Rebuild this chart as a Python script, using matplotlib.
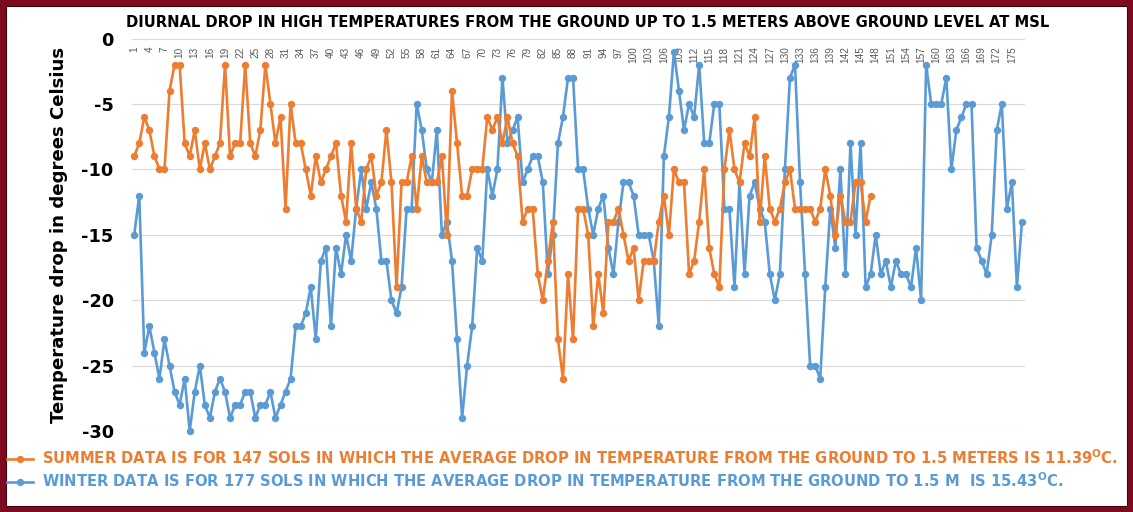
import matplotlib
matplotlib.use("Agg")
import matplotlib.pyplot as plt
from matplotlib.patches import Rectangle

# ---------------- data ----------------
summer = [-9, -8, -6, -7, -9, -10, -10, -4, -2, -2,
          -8, -9, -7, -10, -8, -10, -9, -8, -2, -9,
          -8, -8, -2, -8, -9, -7, -2, -5, -8, -6,
          -13, -5, -8, -8, -10, -12, -9, -11, -10, -9,
          -8, -12, -14, -8, -13, -14, -10, -9, -12, -11,
          -7, -11, -19, -11, -11, -9, -13, -9, -11, -11,
          -11, -9, -15, -4, -8, -12, -12, -10, -10, -10,
          -6, -7, -6, -8, -6, -8, -9, -14, -13, -13,
          -18, -20, -17, -14, -23, -26, -18, -23, -13, -13,
          -15, -22, -18, -21, -14, -14, -13, -15, -17, -16,
          -20, -17, -17, -17, -14, -12, -15, -10, -11, -11,
          -18, -17, -14, -10, -16, -18, -19, -10, -7, -10,
          -11, -8, -9, -6, -14, -9, -13, -14, -13, -11,
          -10, -13, -13, -13, -13, -14, -13, -10, -12, -15,
          -12, -14, -14, -11, -11, -14, -12]

winter = [-15, -12, -24, -22, -24, -26, -23, -25, -27, -28,
          -26, -30, -27, -25, -28, -29, -27, -26, -27, -29,
          -28, -28, -27, -27, -29, -28, -28, -27, -29, -28,
          -27, -26, -22, -22, -21, -19, -23, -17, -16, -22,
          -16, -18, -15, -17, -13, -10, -13, -11, -13, -17,
          -17, -20, -21, -19, -13, -13, -5, -7, -10, -11,
          -7, -15, -14, -17, -23, -29, -25, -22, -16, -17,
          -10, -12, -10, -3, -8, -7, -6, -11, -10, -9,
          -9, -11, -18, -15, -8, -6, -3, -3, -10, -10,
          -13, -15, -13, -12, -16, -18, -14, -11, -11, -12,
          -15, -15, -15, -17, -22, -9, -6, -1, -4, -7,
          -5, -6, -2, -8, -8, -5, -5, -13, -13, -19,
          -11, -18, -12, -11, -13, -14, -18, -20, -18, -10,
          -3, -2, -11, -18, -25, -25, -26, -19, -13, -16,
          -10, -18, -8, -15, -8, -19, -18, -15, -18, -17,
          -19, -17, -18, -18, -19, -16, -20, -2, -5, -5,
          -5, -3, -10, -7, -6, -5, -5, -16, -17, -18,
          -15, -7, -5, -13, -11, -19, -14]

summer_sols = list(range(1, len(summer) + 1))
winter_sols = list(range(1, len(winter) + 1))
x_tick_pos = list(range(1, 178, 3))
x_tick_labels = [str(t) for t in x_tick_pos]
y_ticks = [0, -5, -10, -15, -20, -25, -30]
y_tick_labels = ["0", "-5", "-10", "-15", "-20", "-25", "-30"]

title = "DIURNAL DROP IN HIGH TEMPERATURES FROM THE GROUND UP TO 1.5 METERS ABOVE GROUND LEVEL AT MSL"
y_label = "Temperature drop in degrees Celsius"
summer_label = ("SUMMER DATA IS FOR 147 SOLS IN WHICH THE AVERAGE DROP IN TEMPERATURE "
                "FROM THE GROUND TO 1.5 METERS IS 11.39$^{\\mathbf{O}}$C.")
winter_label = ("WINTER DATA IS FOR 177 SOLS IN WHICH THE AVERAGE DROP IN TEMPERATURE "
                "FROM THE GROUND TO 1.5 M  IS 15.43$^{\\mathbf{O}}$C.")

ORANGE = "#ED7D31"
BLUE = "#5B9BD5"

# ---------------- figure ----------------
W, H = 1133, 512
plt.rcParams["font.family"] = ["DejaVu Sans"]
plt.rcParams["mathtext.fontset"] = "dejavusans"
fig = plt.figure(figsize=(W / 100, H / 100), dpi=100)
fig.patch.set_facecolor("white")

ax_left, ax_right, ax_top, ax_bottom = 131.7, 1024.5, 38.5, 431.0
ax = fig.add_axes([ax_left / W, 1 - ax_bottom / H, (ax_right - ax_left) / W, (ax_bottom - ax_top) / H])
ax.set_xlim(0.5, 177.5)
ax.set_ylim(-30, 0)
for s in ax.spines.values():
    s.set_visible(False)

line_w, = ax.plot(winter_sols, winter, color=BLUE, lw=1.9, marker="o", ms=4.3,
                  clip_on=False, zorder=3)
line_s, = ax.plot(summer_sols, summer, color=ORANGE, lw=1.9, marker="o", ms=4.3,
                  clip_on=False, zorder=4)

ax.set_yticks(y_ticks)
ax.set_yticklabels(y_tick_labels)
ax.tick_params(axis="y", length=0, pad=13, labelsize=12.8, labelcolor="black")
for lbl in ax.get_yticklabels():
    lbl.set_fontweight("bold")
ax.grid(axis="y", color="#D9D9D9", lw=0.8)
ax.set_axisbelow(True)

ax.set_xticks(x_tick_pos)
ax.set_xticklabels(x_tick_labels, rotation=90, family="Liberation Sans")
ax.tick_params(axis="x", bottom=False, top=False, labelbottom=False, labeltop=True,
               length=0, pad=-5.8, labelsize=7.2, labelcolor="#595959")
for lbl in ax.get_xticklabels():
    lbl.set_va("top")

fig.canvas.draw()
renderer = fig.canvas.get_renderer()

# y label
ax.set_ylabel(y_label, fontweight="bold", fontsize=14)
ax.yaxis.label.set_va("center")
ax.yaxis.set_label_coords((59 - ax_left) / (ax_right - ax_left), 0.5)
bb = ax.yaxis.label.get_window_extent(renderer)
ax.yaxis.label.set_fontsize(14 * 380 / bb.height)

# title
t = fig.text(588 / W, 1 - 22.5 / H, title, ha="center", va="center",
             fontweight="bold", fontsize=12, color="black")
bb = t.get_window_extent(renderer)
t.set_fontsize(12 * 923 / bb.width)

# legend (two rows)
tmp = fig.text(0, 0, summer_label, fontsize=10, fontweight="bold")
w = tmp.get_window_extent(renderer).width
tmp.remove()
leg_fs = 10 * 1076 / w
fs_px = leg_fs * 100 / 72
for handle, label, ycen in [(line_s, summer_label, 457.5), (line_w, winter_label, 480.5)]:
    fig.legend(handles=[handle], labels=[label], loc="center left",
               bbox_to_anchor=(7 / W, 1 - ycen / H), frameon=False,
               borderpad=0, borderaxespad=0,
               handlelength=26 / fs_px, handletextpad=9 / fs_px,
               prop={"weight": "bold", "size": leg_fs}, labelcolor="linecolor")

# border
fig.add_artist(Rectangle((0, 0), 1, 1, transform=fig.transFigure, fill=False,
                         ec="#7D0A1F", lw=12 * 72 / 100, clip_on=False))
fig.add_artist(Rectangle((6 / W, 6 / H), 1 - 12 / W, 1 - 12 / H, transform=fig.transFigure,
                         fill=False, ec="#3A0610", lw=0.8, clip_on=False))

fig.savefig("out.png", dpi=100)
